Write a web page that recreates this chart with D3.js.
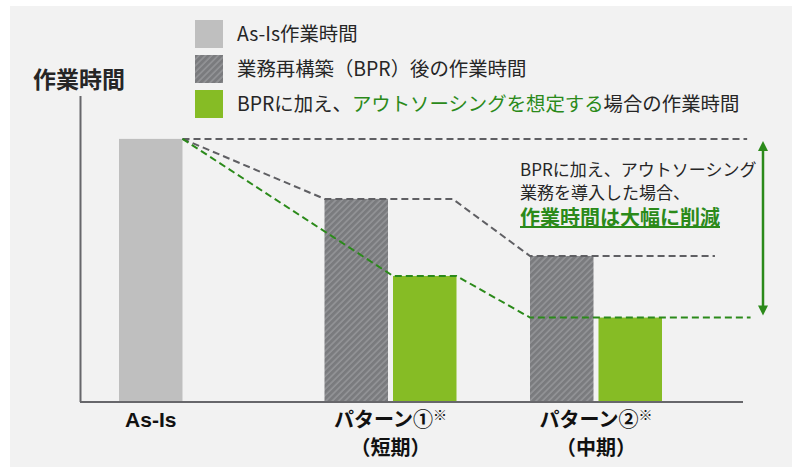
<!DOCTYPE html>
<html>
<head>
<meta charset="utf-8">
<script src="https://cdn.jsdelivr.net/npm/d3@7"></script>
<style>
  body { margin: 0; background: #ffffff; }
  svg text { font-family: "Noto Sans CJK JP", "Noto Sans", sans-serif; }
</style>
</head>
<body>
<div id="chart"></div>
<script>
// Data (As-Is = 100)
var categories = ["As-Is", "パターン①", "パターン②"];
var subLabels = ["", "（短期）", "（中期）"];
var asIsValue = 100;
var bprValues = [77.2, 55.5];          // パターン①, パターン②
var outsourceValues = [47.9, 32.1];    // パターン①, パターン②
var legendLabels = ["As-Is作業時間", "業務再構築（BPR）後の作業時間", "BPRに加え、アウトソーシングを想定する場合の作業時間"];
var noteLines = ["BPRに加え、アウトソーシング", "業務を導入した場合、", "作業時間は大幅に削減"];

var svgWidth = 798;
var svgHeight = 467;

var colorAsIs = "#bfbfbf";
var colorGreen = "#86bc25";
var colorDarkGreen = "#2b8a1a";
var colorDash = "#5f5f63";
var colorAxis = "#67676b";
var colorText = "#262626";

var svg = d3.select("#chart")
    .append("svg")
    .attr("width", svgWidth)
    .attr("height", svgHeight);

// Hatch for the BPR bars
var defs = svg.append("defs");
var hatch = defs.append("pattern")
    .attr("id", "hatch")
    .attr("patternUnits", "userSpaceOnUse")
    .attr("width", 4.5)
    .attr("height", 4.5)
    .attr("patternTransform", "rotate(45)");
hatch.append("rect")
    .attr("width", 4.5)
    .attr("height", 4.5)
    .attr("fill", "#7a7b7e");
hatch.append("line")
    .attr("x1", 1).attr("y1", 0)
    .attr("x2", 1).attr("y2", 4.5)
    .attr("stroke", "#9c9da0")
    .attr("stroke-width", 1.2);

// Panel background
svg.append("rect")
    .attr("x", 10)
    .attr("y", 6)
    .attr("width", 782)
    .attr("height", svgHeight - 6)
    .attr("fill", "#f2f2f2");

// Scales: x counts bar slots, y is the work time
var xScale = d3.scaleLinear().domain([0, 7]).range([119, 598.5]);
var barWidth = xScale(1) - xScale(0) - 5;
var yScale = d3.scaleLinear().domain([0, 116.3]).range([402, 96]);

var chartGroup = svg.append("g");

// Bars
var bars = [{ slot: 0, value: asIsValue, fill: colorAsIs }];
bprValues.forEach(function(v, i) {
    bars.push({ slot: 3 * (i + 1), value: v, fill: "url(#hatch)" });
});
outsourceValues.forEach(function(v, i) {
    bars.push({ slot: 3 * (i + 1) + 1, value: v, fill: colorGreen });
});

chartGroup.selectAll("rect.bar")
    .data(bars)
    .enter()
    .append("rect")
    .attr("class", "bar")
    .attr("x", d => xScale(d.slot))
    .attr("y", d => yScale(d.value))
    .attr("width", barWidth)
    .attr("height", d => yScale(0) - yScale(d.value))
    .attr("fill", d => d.fill);

// Dashed guide lines
var line = d3.line().x(d => d[0]).y(d => d[1]);
var asIsRight = xScale(0) + barWidth;

var topLine = [[asIsRight, yScale(asIsValue)], [xScale(9.17), yScale(asIsValue)]];
var bprLine = [
    [asIsRight, yScale(asIsValue)],
    [xScale(3), yScale(bprValues[0])],
    [xScale(4) + barWidth - 4, yScale(bprValues[0])],
    [xScale(6), yScale(bprValues[1])],
    [xScale(8.7), yScale(bprValues[1])]
];
var greenLine = [
    [asIsRight, yScale(asIsValue)],
    [xScale(4), yScale(outsourceValues[0])],
    [xScale(4) + barWidth, yScale(outsourceValues[0])],
    [xScale(6), yScale(outsourceValues[1])],
    [xScale(9.22), yScale(outsourceValues[1])]
];

[[topLine, colorDash], [bprLine, colorDash], [greenLine, colorDarkGreen]].forEach(function(l) {
    chartGroup.append("path")
        .attr("d", line(l[0]))
        .attr("fill", "none")
        .attr("stroke", l[1])
        .attr("stroke-width", 2)
        .attr("stroke-dasharray", "7,4");
});

// Axes (plain lines, no ticks)
chartGroup.append("line")
    .attr("x1", 80.5).attr("x2", 80.5)
    .attr("y1", 96).attr("y2", yScale(0))
    .attr("stroke", colorAxis)
    .attr("stroke-width", 2);
chartGroup.append("line")
    .attr("x1", 80).attr("x2", 743)
    .attr("y1", yScale(0)).attr("y2", yScale(0))
    .attr("stroke", colorAxis)
    .attr("stroke-width", 2);

// Y axis title
svg.append("text")
    .attr("x", 79)
    .attr("y", 88)
    .attr("text-anchor", "middle")
    .attr("font-size", 23)
    .attr("font-weight", "bold")
    .attr("fill", colorText)
    .text("作業時間");

// Category labels
var labelCenters = [xScale(0) + barWidth / 2, xScale(4) - 2.5, xScale(7) - 2.5];
categories.forEach(function(c, i) {
    var t = svg.append("text")
        .attr("x", labelCenters[i])
        .attr("y", 427)
        .attr("text-anchor", "middle")
        .attr("font-size", 20)
        .attr("font-weight", "bold")
        .attr("fill", "#111");
    if (i === 0) {
        t.style("font-family", "'Liberation Sans', Arial, sans-serif").attr("font-size", 21).text(c);
    } else {
        t.append("tspan").text(c);
        t.append("tspan")
            .attr("font-size", 14)
            .attr("font-weight", "normal")
            .attr("dy", -7)
            .text("※");
        svg.append("text")
            .attr("x", labelCenters[i])
            .attr("y", 455)
            .attr("text-anchor", "middle")
            .attr("font-size", 20)
            .attr("font-weight", "bold")
            .attr("fill", "#111")
            .text(subLabels[i]);
    }
});

// Legend
var legendFills = [colorAsIs, "url(#hatch)", colorGreen];
var legend = svg.append("g").attr("transform", "translate(195, 20)");
legendLabels.forEach(function(l, i) {
    legend.append("rect")
        .attr("x", 0)
        .attr("y", i * 35)
        .attr("width", 28)
        .attr("height", 28)
        .attr("fill", legendFills[i]);
    var t = legend.append("text")
        .attr("x", 42)
        .attr("y", i * 35 + 21)
        .attr("font-size", 19.4)
        .attr("fill", colorText);
    if (i === 2) {
        t.append("tspan").text("BPRに加え、");
        t.append("tspan").attr("fill", colorDarkGreen).text("アウトソーシングを想定する");
        t.append("tspan").text("場合の作業時間");
    } else {
        t.text(l);
    }
});

// Annotation on the right
svg.append("text")
    .attr("x", 520).attr("y", 176)
    .attr("font-size", 17)
    .attr("fill", colorText)
    .text(noteLines[0]);
svg.append("text")
    .attr("x", 520).attr("y", 199)
    .attr("font-size", 17)
    .attr("fill", colorText)
    .text(noteLines[1]);
svg.append("text")
    .attr("x", 520).attr("y", 225)
    .attr("font-size", 20)
    .attr("font-weight", "bold")
    .attr("fill", colorDarkGreen)
    .style("text-decoration", "underline")
    .text(noteLines[2]);

// Double arrow between As-Is and パターン② outsourcing level
var arrowX = 763;
var arrowTop = yScale(asIsValue) + 2;
var arrowBottom = yScale(outsourceValues[1]) - 2;
svg.append("line")
    .attr("x1", arrowX).attr("x2", arrowX)
    .attr("y1", arrowTop + 8).attr("y2", arrowBottom - 8)
    .attr("stroke", colorDarkGreen)
    .attr("stroke-width", 2.5);
svg.append("path")
    .attr("d", `M${arrowX},${arrowTop} L${arrowX - 5},${arrowTop + 10} L${arrowX + 5},${arrowTop + 10} Z`)
    .attr("fill", colorDarkGreen);
svg.append("path")
    .attr("d", `M${arrowX},${arrowBottom} L${arrowX - 5},${arrowBottom - 10} L${arrowX + 5},${arrowBottom - 10} Z`)
    .attr("fill", colorDarkGreen);
</script>
</body>
</html>
